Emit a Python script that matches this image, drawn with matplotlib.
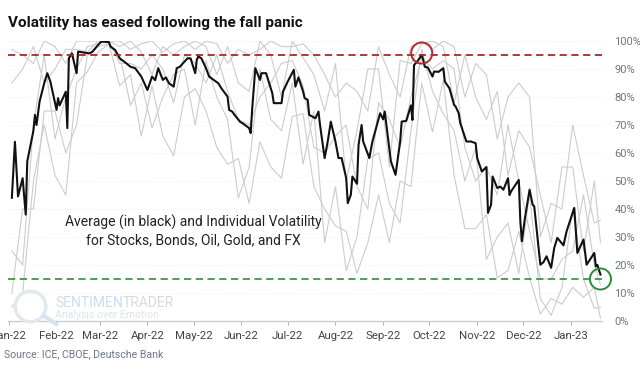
import matplotlib
matplotlib.use("Agg")
import matplotlib.pyplot as plt
import matplotlib.dates as mdates
from matplotlib.lines import Line2D
import pandas as pd

plt.rcParams['font.family'] = ['Roboto', 'DejaVu Sans']

# average volatility (black line)
avg_dates = [
    "2022-01-03", "2022-01-05", "2022-01-07", "2022-01-10", "2022-01-12", "2022-01-13",
    "2022-01-17", "2022-01-18", "2022-01-19", "2022-01-21", "2022-01-24", "2022-01-26",
    "2022-01-28", "2022-02-01", "2022-02-02", "2022-02-03", "2022-02-07", "2022-02-08",
    "2022-02-09", "2022-02-11", "2022-02-14", "2022-02-15", "2022-02-22", "2022-02-24",
    "2022-02-28", "2022-03-02", "2022-03-07", "2022-03-08", "2022-03-11", "2022-03-14",
    "2022-03-17", "2022-03-21", "2022-03-24", "2022-03-28", "2022-03-30", "2022-04-01",
    "2022-04-04", "2022-04-06", "2022-04-08", "2022-04-11", "2022-04-13", "2022-04-15",
    "2022-04-18", "2022-04-20", "2022-04-22", "2022-04-25", "2022-04-27", "2022-04-29",
    "2022-05-02", "2022-05-03", "2022-05-04", "2022-05-06", "2022-05-09", "2022-05-11",
    "2022-05-13", "2022-05-17", "2022-05-19", "2022-05-23", "2022-05-24", "2022-05-26",
    "2022-05-27", "2022-05-31", "2022-06-02", "2022-06-06", "2022-06-07", "2022-06-08",
    "2022-06-10", "2022-06-13", "2022-06-14", "2022-06-17", "2022-06-21", "2022-06-22",
    "2022-06-27", "2022-06-28", "2022-07-01", "2022-07-05", "2022-07-06", "2022-07-08",
    "2022-07-11", "2022-07-12", "2022-07-14", "2022-07-15", "2022-07-19", "2022-07-21",
    "2022-07-22", "2022-07-25", "2022-07-27", "2022-07-29", "2022-08-01", "2022-08-03",
    "2022-08-05", "2022-08-08", "2022-08-09", "2022-08-11", "2022-08-12", "2022-08-15",
    "2022-08-16", "2022-08-18", "2022-08-19", "2022-08-23", "2022-08-25", "2022-08-30",
    "2022-09-01", "2022-09-02", "2022-09-06", "2022-09-09", "2022-09-12", "2022-09-13",
    "2022-09-16", "2022-09-19", "2022-09-20", "2022-09-21", "2022-09-23", "2022-09-26",
    "2022-09-27", "2022-09-28", "2022-09-30", "2022-10-03", "2022-10-04", "2022-10-07",
    "2022-10-10", "2022-10-11", "2022-10-14", "2022-10-17", "2022-10-18", "2022-10-20",
    "2022-10-21", "2022-10-25", "2022-10-28", "2022-10-31", "2022-11-01", "2022-11-04",
    "2022-11-07", "2022-11-08", "2022-11-10", "2022-11-11", "2022-11-14", "2022-11-16",
    "2022-11-18", "2022-11-21", "2022-11-22", "2022-11-23", "2022-11-28", "2022-11-29",
    "2022-11-30", "2022-12-02", "2022-12-05", "2022-12-07", "2022-12-08", "2022-12-12",
    "2022-12-14", "2022-12-16", "2022-12-19", "2022-12-21", "2022-12-23", "2022-12-27",
    "2022-12-29", "2023-01-03", "2023-01-05", "2023-01-09", "2023-01-11", "2023-01-16",
    "2023-01-17", "2023-01-18", "2023-01-20",
]
avg_vals = [
    44, 64, 44.5, 51, 38, 57,
    68, 73.6, 70, 78.4, 84.9, 88.5,
    85.5, 75.4, 79.6, 77, 81.9, 68.9,
    93.8, 95.6, 88.5, 96.2, 95.6, 96,
    98.6, 99.8, 99.6, 98, 96.8, 93.8,
    92.6, 90.8, 90.3, 87.3, 84.9, 82.5,
    87.3, 86, 90.3, 86.1, 87, 84.9,
    83.7, 90.3, 90.8, 92.6, 93.8, 93.8,
    88.5, 93.2, 94.5, 93.8, 90.3, 87.3,
    86.5, 84.9, 83.1, 80.1, 75.4, 74.8,
    74, 71.2, 70.5, 68.9, 67.1, 76,
    90.3, 86.1, 88.5, 88.5, 81.4, 77.8,
    77.8, 81.9, 85.5, 89.7, 83.7, 87,
    82, 79.6, 79, 73.6, 72.4, 74.8,
    70, 58.2, 64.1, 71.2, 64.1, 58.2,
    58.2, 51, 42.1, 45.1, 51.6, 49,
    62.9, 70, 64.1, 58.2, 64.1, 74.2,
    72, 74.8, 57, 52.2, 64.1, 71.2,
    71.5, 77, 71.8, 91.4, 92.6, 95,
    93.2, 90.8, 90.5, 87.3, 89.1, 89,
    90.3, 85.5, 83.1, 77.2, 76.6, 74.2,
    70.7, 64.1, 64.1, 63.5, 58.2, 53.4,
    55, 38.6, 41.5, 51.6, 47.5, 48,
    46.9, 51, 45, 46.3, 50.4, 35.6,
    28.5, 36.8, 46.9, 41.5, 41, 20.1,
    21, 23.1, 19, 26.1, 29.7, 27,
    32, 40.4, 24.3, 29.1, 20.1, 24.3,
    19.5, 20, 16.6,
]

# individual volatility series (gray lines), weekly
ind_dates = list(pd.date_range("2022-01-03", "2023-01-16", freq="7D").strftime("%Y-%m-%d")) + ["2023-01-20"]
stocks = [97, 95, 92, 100, 98, 92, 100, 100, 100, 100, 100, 97, 99, 100, 96, 99, 100, 97, 100, 99,
          92, 97, 95, 97, 100, 98, 98, 99, 95, 88, 80, 85, 82, 75, 98, 88, 80, 98, 100, 97,
          100, 98, 80, 92, 88, 65, 80, 85, 80, 30, 42, 40, 70, 52, 35, 36]
bonds = [85, 90, 98, 85, 90, 97, 97, 96, 100, 100, 98, 100, 96, 88, 98, 95, 98, 100, 98, 88,
         98, 85, 82, 100, 95, 80, 100, 94, 88, 75, 92, 50, 68, 90, 90, 55, 93, 92, 99, 100,
         98, 78, 95, 80, 72, 82, 52, 68, 62, 45, 28, 55, 55, 25, 50, 28]
oil = [25, 20, 70, 95, 65, 80, 90, 98, 99, 100, 92, 92, 90, 95, 90, 78, 95, 92, 85, 95,
       82, 72, 70, 80, 85, 92, 93, 84, 62, 60, 66, 70, 48, 40, 78, 72, 62, 80, 94, 90,
       93, 90, 62, 50, 55, 45, 70, 50, 32, 15, 15, 22, 25, 45, 20, 13]
gold = [10, 40, 40, 75, 75, 60, 70, 95, 98, 99, 95, 77, 85, 69, 80, 88, 90, 70, 93, 80,
        72, 44, 55, 90, 72, 68, 85, 56, 75, 28, 48, 18, 30, 58, 60, 42, 35, 68, 97, 82,
        74, 68, 50, 62, 22, 30, 35, 17, 45, 8, 2, 12, 40, 15, 4.5, 5]
fx = [5, 10, 50, 70, 52, 45, 85, 89, 96, 99, 84, 88, 66, 84, 66, 59, 80, 83, 75, 62,
      56, 58, 42, 64, 55, 51, 73, 74, 48, 40, 34, 32, 17, 28, 45, 28, 50, 48, 85, 67.5,
      86, 52, 33, 33, 38, 15.5, 18, 32, 15.5, 2.5, 8, 6, 12, 8.5, 12, 1]

upper_level = 95
lower_level = 15
peak_date, peak_val = "2022-09-26", 95
last_date = "2023-01-20"

fig = plt.figure(figsize=(6.4, 3.71), dpi=100)
ax = fig.add_axes([8 / 640, 1 - 321 / 371, 594 / 640, 280 / 371])

for series in [stocks, bonds, oil, gold, fx]:
    ax.plot(pd.to_datetime(ind_dates), series, color="#cccccc", lw=0.8, zorder=2)

ax.plot(pd.to_datetime(avg_dates), avg_vals, color="#111111", lw=1.5, zorder=4)

ax.axhline(upper_level, color="#a52a2a", lw=1.3, ls=(0, (4, 2.5)), zorder=5)
ax.axhline(lower_level, color="#3d9a46", lw=1.3, ls=(0, (4, 2.5)), zorder=5)

ax.scatter(pd.to_datetime([peak_date]), [peak_val + 0.7], s=230, facecolors="none",
           edgecolors="#b5282c", linewidths=1.4, zorder=6, clip_on=False)
ax.scatter(pd.to_datetime([last_date]), [lower_level], s=230, facecolors="none",
           edgecolors="#2e8b3e", linewidths=1.4, zorder=6, clip_on=False)

ax.set_xlim(pd.Timestamp("2021-12-31 12:00"), pd.Timestamp("2023-01-21"))
ax.set_ylim(0, 100)

ax.xaxis.set_major_locator(mdates.MonthLocator())
ax.xaxis.set_major_formatter(mdates.DateFormatter("%b-%y"))
ax.yaxis.tick_right()
ax.set_yticks(range(0, 101, 10))
ax.set_yticklabels([f"{v}%" for v in range(0, 101, 10)])
ax.tick_params(axis="y", length=0, pad=9, labelsize=8, labelcolor="#6b7785")
ax.tick_params(axis="x", length=3, width=0.8, color="#bbbbbb", pad=4,
               labelsize=8.2, labelcolor="#444444")
ax.grid(axis="y", color="#eeeeee", lw=0.6, ls=(0, (1, 1.5)))
ax.set_axisbelow(True)
for side in ["top", "left", "right"]:
    ax.spines[side].set_visible(False)
ax.spines["bottom"].set_color("#c8c8c8")
ax.spines["bottom"].set_linewidth(0.9)

fig.text(193 / 640, 1 - 231 / 371,
         "Average (in black) and Individual Volatility\nfor Stocks, Bonds, Oil, Gold, and FX",
         ha="center", va="center", fontsize=10, color="#222222", linespacing=1.25, zorder=7)

# title and source
fig.text(8 / 640, 1 - 27 / 371, "Volatility has eased following the fall panic",
         fontsize=11, fontweight="bold", color="#111111", va="baseline")
fig.text(4 / 640, 1 - 354 / 371, "Source: ICE, CBOE, Deutsche Bank",
         fontsize=7.6, color="#6b7785", va="center")

# watermark
fig.add_artist(Line2D([30 / 640], [1 - 306 / 371], marker="o", ms=22, mfc="none",
                      mec="#e3e8ec", mew=2.5, transform=fig.transFigure))
fig.add_artist(Line2D([44 / 640, 56 / 640], [1 - 316 / 371, 1 - 324 / 371],
                      color="#d6e4f0", lw=3, transform=fig.transFigure))
wm = fig.text(55 / 640, 1 - 303 / 371, "SENTIMEN", fontsize=10, color="#cddded", va="center")
ax.annotate("TRADER", xy=(1, 0.5), xycoords=wm, va="center", ha="left",
            fontsize=10, color="#d9d9d9", annotation_clip=False)
fig.text(55 / 640, 1 - 315 / 371, "Analysis over Emotion", fontsize=7.6, color="#e0e4e8",
         va="center")

fig.savefig("out.png", dpi=100)
